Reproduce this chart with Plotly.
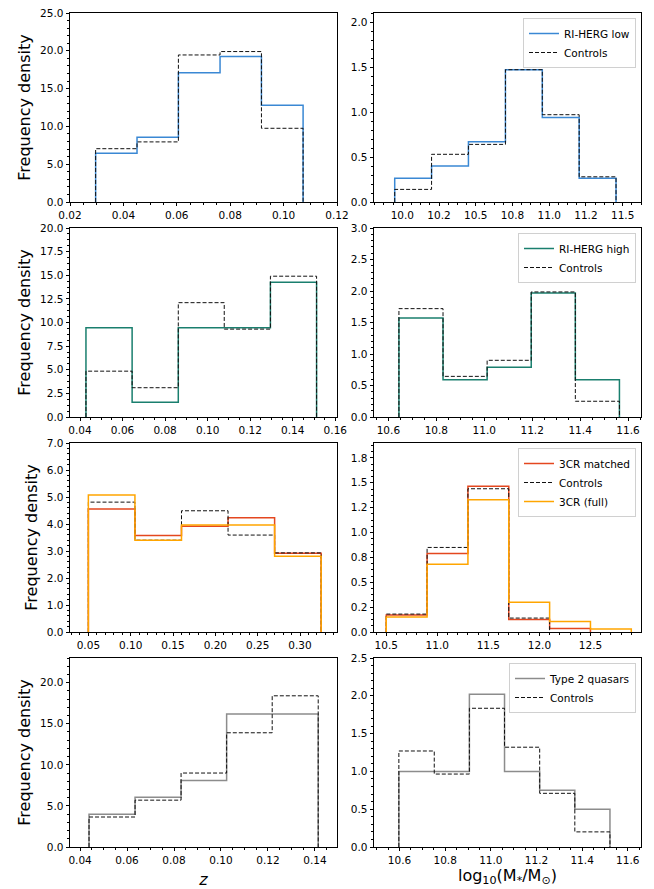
import plotly.graph_objects as go
from plotly.subplots import make_subplots

# ---------------- data ----------------
# Row 1: RI-HERG low
z_low_edges = [0.0296, 0.0451, 0.0606, 0.0762, 0.0917, 0.1073]
z_low_sample = [6.45, 8.55, 17.1, 19.25, 12.8]
z_low_ctrl = [7.05, 7.95, 19.45, 19.9, 9.75]
m_low_edges = [9.948, 10.199, 10.450, 10.702, 10.953, 11.204, 11.455]
m_low_sample = [0.265, 0.40, 0.67, 1.47, 0.94, 0.265]
m_low_ctrl = [0.14, 0.53, 0.64, 1.47, 0.97, 0.28]

# Row 2: RI-HERG high
z_high_edges = [0.0428, 0.0645, 0.0862, 0.1078, 0.1295, 0.1512]
z_high_sample = [9.45, 1.55, 9.45, 9.45, 14.25]
z_high_ctrl = [4.85, 3.1, 12.1, 9.3, 14.9]
m_high_edges = [10.644, 10.828, 11.012, 11.196, 11.380, 11.564]
m_high_sample = [1.57, 0.59, 0.79, 1.97, 0.59]
m_high_ctrl = [1.72, 0.645, 0.90, 1.985, 0.25]

# Row 3: 3CR
z_3cr_edges = [0.050, 0.105, 0.160, 0.215, 0.270, 0.325]
z_3cr_matched = [4.56, 3.57, 3.92, 4.23, 2.92]
z_3cr_ctrl = [4.81, 3.40, 4.49, 3.59, 2.93]
z_3cr_full = [5.07, 3.40, 3.96, 3.96, 2.81]
m_3cr_edges = [10.50, 10.90, 11.30, 11.70, 12.10, 12.50, 12.90]
m_3cr_matched = [0.17, 0.79, 1.465, 0.125, 0.035]
m_3cr_ctrl = [0.18, 0.85, 1.44, 0.14]
m_3cr_full = [0.15, 0.68, 1.33, 0.30, 0.105, 0.03]

# Row 4: Type 2 quasars
z_t2_edges = [0.0438, 0.0634, 0.0830, 0.1024, 0.1218, 0.1414]
z_t2_sample = [4.0, 6.05, 8.1, 16.2, 16.2]
z_t2_ctrl = [3.65, 5.7, 9.0, 13.9, 18.4]
m_t2_edges = [10.597, 10.752, 10.906, 11.060, 11.214, 11.368, 11.522]
m_t2_sample = [1.0, 1.0, 2.02, 1.0, 0.75, 0.5]
m_t2_ctrl = [1.27, 0.965, 1.835, 1.32, 0.71, 0.2]

# tick labels (matplotlib-style rounding of quarter ticks)
m_low_tickvals = [10.0, 10.25, 10.5, 10.75, 11.0, 11.25, 11.5]
m_low_ticktext = ["10.0", "10.2", "10.5", "10.8", "11.0", "11.2", "11.5"]
m_3cr_ytickvals = [0.0, 0.25, 0.5, 0.75, 1.0, 1.25, 1.5, 1.75]
m_3cr_yticktext = ["0.0", "0.2", "0.5", "0.8", "1.0", "1.2", "1.5", "1.8"]

labels = {
    "low": "RI-HERG low",
    "high": "RI-HERG high",
    "matched": "3CR matched",
    "ctrl": "Controls",
    "full": "3CR (full)",
    "t2": "Type 2 quasars",
}

C_BLUE = "#3a88d4"
C_TEAL = "#1a7f6e"
C_RED = "#e4471f"
C_ORANGE = "#ffa500"
C_GREY = "#8c8c8c"
C_CTRL = "#111111"

FONT = "DejaVu Sans"


def step_xy(edges, vals):
    xs = [edges[0]]
    ys = [0.0]
    for i, v in enumerate(vals):
        xs += [edges[i], edges[i + 1]]
        ys += [v, v]
    xs.append(edges[len(vals)])
    ys.append(0.0)
    return xs, ys


fig = make_subplots(rows=4, cols=2)


def add_hist(row, col, edges, vals, name, color, dashed=False, legend=None):
    xs, ys = step_xy(edges, vals)
    fig.add_trace(
        go.Scatter(
            x=xs, y=ys, mode="lines", name=name,
            line=dict(color=color, width=1.0 if dashed else 1.5,
                      dash="4px,2px" if dashed else "solid"),
            showlegend=legend is not None,
            legend=legend if legend else "legend",
            hoverinfo="skip",
        ),
        row=row, col=col,
    )


# Row 1
add_hist(1, 1, z_low_edges, z_low_sample, labels["low"], C_BLUE)
add_hist(1, 1, z_low_edges, z_low_ctrl, labels["ctrl"], C_CTRL, dashed=True)
add_hist(1, 2, m_low_edges, m_low_sample, labels["low"], C_BLUE, legend="legend")
add_hist(1, 2, m_low_edges, m_low_ctrl, labels["ctrl"], C_CTRL, dashed=True, legend="legend")
# Row 2
add_hist(2, 1, z_high_edges, z_high_sample, labels["high"], C_TEAL)
add_hist(2, 1, z_high_edges, z_high_ctrl, labels["ctrl"], C_CTRL, dashed=True)
add_hist(2, 2, m_high_edges, m_high_sample, labels["high"], C_TEAL, legend="legend2")
add_hist(2, 2, m_high_edges, m_high_ctrl, labels["ctrl"], C_CTRL, dashed=True, legend="legend2")
# Row 3
add_hist(3, 1, z_3cr_edges, z_3cr_matched, labels["matched"], C_RED)
add_hist(3, 1, z_3cr_edges, z_3cr_ctrl, labels["ctrl"], C_CTRL, dashed=True)
add_hist(3, 1, z_3cr_edges, z_3cr_full, labels["full"], C_ORANGE)
add_hist(3, 2, m_3cr_edges, m_3cr_matched, labels["matched"], C_RED, legend="legend3")
add_hist(3, 2, m_3cr_edges, m_3cr_ctrl, labels["ctrl"], C_CTRL, dashed=True, legend="legend3")
add_hist(3, 2, m_3cr_edges, m_3cr_full, labels["full"], C_ORANGE, legend="legend3")
# Row 4
add_hist(4, 1, z_t2_edges, z_t2_sample, labels["t2"], C_GREY)
add_hist(4, 1, z_t2_edges, z_t2_ctrl, labels["ctrl"], C_CTRL, dashed=True)
add_hist(4, 2, m_t2_edges, m_t2_sample, labels["t2"], C_GREY, legend="legend4")
add_hist(4, 2, m_t2_edges, m_t2_ctrl, labels["ctrl"], C_CTRL, dashed=True, legend="legend4")

W, H = 654, 889
col_px = [(70, 337), (374, 641)]
row_px = [(13, 202), (228, 417), (443, 632), (658, 847)]

axis_common = dict(
    showline=True, linecolor="#000000", linewidth=0.9, mirror=True,
    ticks="outside", ticklen=3.5, tickwidth=0.8, tickcolor="#000000",
    showgrid=False, zeroline=False, automargin=False,
    tickfont=dict(family=FONT, size=10.5, color="#000000"),
)

xcfg = {
    (1, 1): dict(range=[0.02, 0.12], dtick=0.02, tick0=0.0, tickformat=".2f", minor_dtick=0.005),
    (1, 2): dict(range=[9.807, 11.625], tickmode="array", tickvals=m_low_tickvals,
                 ticktext=m_low_ticktext, minor_dtick=0.0625),
    (2, 1): dict(range=[0.0353, 0.1608], dtick=0.02, tick0=0.0, tickformat=".2f", minor_dtick=0.005),
    (2, 2): dict(range=[10.540, 11.654], dtick=0.2, tick0=10.0, tickformat=".1f", minor_dtick=0.05),
    (3, 1): dict(range=[0.0283, 0.3437], dtick=0.05, tick0=0.0, tickformat=".2f", minor_dtick=0.01),
    (3, 2): dict(range=[10.38, 12.995], dtick=0.5, tick0=10.0, tickformat=".1f", minor_dtick=0.1),
    (4, 1): dict(range=[0.0357, 0.1494], dtick=0.02, tick0=0.0, tickformat=".2f", minor_dtick=0.005),
    (4, 2): dict(range=[10.488, 11.658], dtick=0.2, tick0=10.0, tickformat=".1f", minor_dtick=0.05),
}
ycfg = {
    (1, 1): dict(range=[0, 25], dtick=5, tickformat=".1f", minor_dtick=1),
    (1, 2): dict(range=[0, 2.1], dtick=0.5, tickformat=".1f", minor_dtick=0.1),
    (2, 1): dict(range=[0, 20], dtick=2.5, tickformat=".1f", minor_dtick=0.625),
    (2, 2): dict(range=[0, 3.0], dtick=0.5, tickformat=".1f", minor_dtick=0.1),
    (3, 1): dict(range=[0, 7], dtick=1, tickformat=".1f", minor_dtick=0.2),
    (3, 2): dict(range=[0, 1.9], tickmode="array", tickvals=m_3cr_ytickvals,
                 ticktext=m_3cr_yticktext, minor_dtick=0.0625),
    (4, 1): dict(range=[0, 23], dtick=5, tickformat=".1f", minor_dtick=1),
    (4, 2): dict(range=[0, 2.5], dtick=0.5, tickformat=".1f", minor_dtick=0.1),
}

for r in range(1, 5):
    for c in range(1, 3):
        x0, x1 = col_px[c - 1]
        y0, y1 = row_px[r - 1]
        xc = dict(xcfg[(r, c)])
        yc = dict(ycfg[(r, c)])
        mx = xc.pop("minor_dtick")
        my = yc.pop("minor_dtick")
        fig.update_xaxes(
            domain=[x0 / W, x1 / W], **axis_common, **xc,
            minor=dict(ticks="outside", ticklen=2, tickwidth=0.6, tickcolor="#000000",
                       dtick=mx, tick0=0, showgrid=False),
            row=r, col=c,
        )
        fig.update_yaxes(
            domain=[1 - y1 / H, 1 - y0 / H], **axis_common, **yc,
            minor=dict(ticks="outside", ticklen=2, tickwidth=0.6, tickcolor="#000000",
                       dtick=my, tick0=0, showgrid=False),
            row=r, col=c,
        )
        if c == 1:
            fig.update_yaxes(title=dict(text="Frequency density",
                                        font=dict(family=FONT, size=16, color="#000000"),
                                        standoff=5),
                             row=r, col=c)

fig.update_xaxes(title=dict(text="<i>z</i>", font=dict(family=FONT, size=16, color="#000000"),
                            standoff=8), row=4, col=1)
fig.update_xaxes(title=dict(text="log<sub>10</sub>(M<sub>*</sub>/M<sub>⊙</sub>)",
                            font=dict(family=FONT, size=16, color="#000000"),
                            standoff=0), row=4, col=2)

legend_common = dict(
    xanchor="right", yanchor="top", bgcolor="rgba(255,255,255,0.9)",
    bordercolor="#d0d0d0", borderwidth=1,
    font=dict(family=FONT, size=10.5, color="#000000"),
    tracegroupgap=0, itemwidth=30,
)
fig.update_layout(
    width=W, height=H,
    margin=dict(l=0, r=0, t=0, b=0, autoexpand=False),
    paper_bgcolor="white", plot_bgcolor="white",
    legend=dict(x=636 / W, y=1 - 18 / H, **legend_common),
    legend2=dict(x=636 / W, y=1 - 233 / H, **legend_common),
    legend3=dict(x=636 / W, y=1 - 448 / H, **legend_common),
    legend4=dict(x=636 / W, y=1 - 663 / H, **legend_common),
)

fig.write_html("out.html")
